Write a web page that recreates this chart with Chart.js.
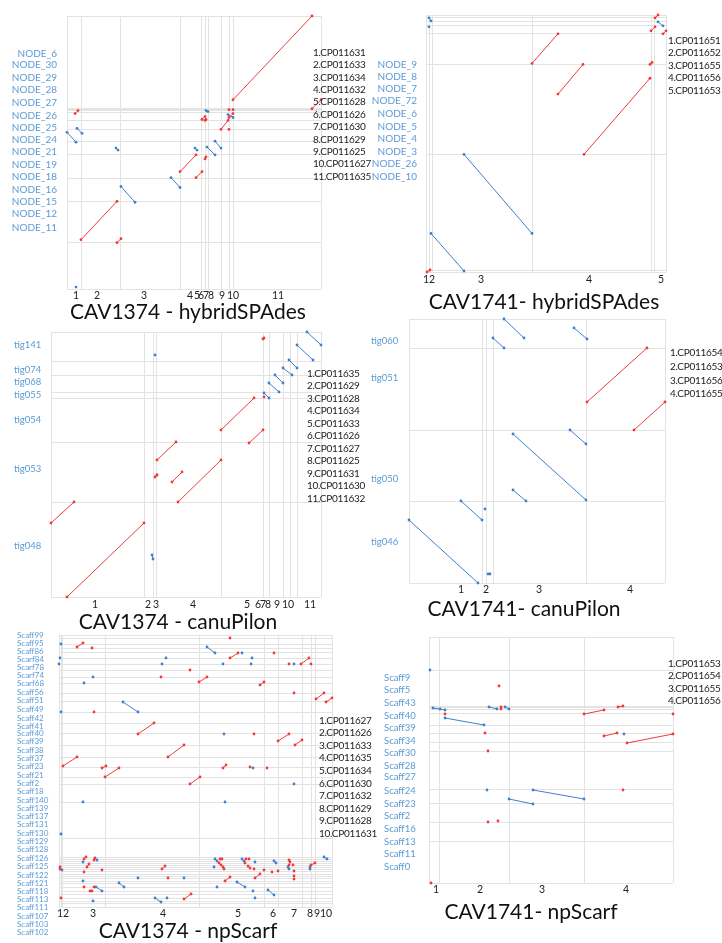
<!DOCTYPE html>
<html>
<head>
<meta charset="utf-8">
<script src="https://cdn.jsdelivr.net/npm/chart.js@4.4.1/dist/chart.umd.min.js"></script>
<style>
  html, body { margin:0; padding:0; background:#fff; }
  #page { position:relative; width:722px; height:943px; overflow:hidden; font-family:Lato, "Open Sans", sans-serif; }
  #page canvas { position:absolute; left:0; top:0; }
  .ttl { position:absolute; font-size:21px; color:#111; white-space:nowrap; transform:translate(-50%,-50%); }
  .lst { position:absolute; font-size:10px; letter-spacing:-0.3px; color:#222; white-space:pre; }
</style>
</head>
<body>
<div id="page"></div>
<script>
// positions are in plot units: x along the reference chromosomes, y along the assembly contigs
// segments are [x1, y1, x2, y2]; single hits are [x, y]

// ---- CAV1374 - hybridSPAdes
const p1Title = 'CAV1374 - hybridSPAdes';
const p1Range = [254, 277];
const p1RefNames = ['1','2','3','4','5','6','7','8','9','10','11'];
const p1RefPos = [9,30,77,123,130,134,139,144,155,166,211];
const p1RefBounds = [0,14,53,113,134,138,141,154,162,166,254];
const p1Contigs = ['NODE_6','NODE_30','NODE_29','NODE_28','NODE_27','NODE_26','NODE_25','NODE_24','NODE_21','NODE_19','NODE_18','NODE_16','NODE_15','NODE_12','NODE_11'];
const p1ContigPos = [239,227,214,202,189,176,164,151,139,126,114,101,88,76,62];
const p1ContigBounds = [0,47,89,112,136,150,162,171,179,181,182,183,277];
const p1Fwd = [[166,192,245,277],[245,183,254,192],[8,178,11,181],[14,50,50,89],[50,47,54,51],[113,119,129,136],[129,113,135,119],[138,132,139,134],[154,162,161,171],[162,162],[135,172,138,175],[138,171,139,172],[162,182],[166,182],[162,174,166,178]];
const p1Rev = [[0,159,9,149],[10,163,15,158],[49,143,51,141],[54,104,68,88],[104,113,113,103],[128,143,130,141],[140,144,148,136],[148,150,154,143],[139,181,141,180],[161,177,166,174],[9,2]];
const p1Legend = ['1.CP011631','2.CP011633','3.CP011634','4.CP011632','5.CP011628','6.CP011626','7.CP011630','8.CP011629','9.CP011625','10.CP011627','11.CP011635'];

// ---- CAV1741 - hybridSPAdes
const p2Title = 'CAV1741- hybridSPAdes';
const p2Range = [240, 260];
const p2RefNames = ['12','3','4','5'];
const p2RefPos = [3,55,163,235];
const p2RefBounds = [0,3,6,106,225,228,240];
const p2Contigs = ['NODE_9','NODE_8','NODE_7','NODE_72','NODE_6','NODE_5','NODE_4','NODE_3','NODE_26','NODE_10'];
const p2ContigPos = [210,198,185,173,160,147,135,122,109,96];
const p2ContigBounds = [0,2,119,210,241,249,253,257,260];
const p2Fwd = [[106,211,132,241],[132,180,157,210],[158,119,224,196],[224,210,226,212],[1,0,4,2],[229,257,232,260],[225,244,229,248],[237,241,240,244]];
const p2Rev = [[38,119,106,39],[5,39,38,1],[232,253,237,249],[3,257,5,254],[3,248]];
const p2Legend = ['1.CP011651','2.CP011652','3.CP011655','4.CP011656','5.CP011653'];

// ---- CAV1374 - canuPilon
const p3Title = 'CAV1374 - canuPilon';
const p3Range = [270, 265];
const p3RefNames = ['1','2','3','4','5','6','7','8','9','10','11'];
const p3RefPos = [44,97,105,142,196,207,212,217,226,237,259];
const p3RefBounds = [0,93,102,105,170,212,218,232,239,246,270];
const p3Contigs = ['tig141','tig074','tig068','tig055','tig054','tig053','tig048'];
const p3ContigPos = [252,227,215,202,177,128,51];
const p3ContigBounds = [0,95,155,199,205,222,236,265];
const p3Fwd = [[0,74,23,95],[16,0,93,74],[104,120,106,122],[106,137,125,155],[121,115,131,125],[127,95,170,137],[170,167,203,199],[198,154,212,167],[212,258,213,259],[213,200]];
const p3Rev = [[101,42,102,38],[106,122],[104,242],[256,265,270,252],[246,252,262,237],[238,237,246,229],[232,229,241,222],[224,222,232,214],[218,214,228,205],[213,204,218,199]];
const p3Legend = ['1.CP011635','2.CP011629','3.CP011628','4.CP011634','5.CP011633','6.CP011626','7.CP011627','8.CP011625','9.CP011631','10.CP011630','11.CP011632'];

// ---- CAV1741 - canuPilon
const p4Title = 'CAV1741- canuPilon';
const p4Range = [256, 264];
const p4RefNames = ['1','2','3','4'];
const p4RefPos = [52,77,130,221];
const p4RefBounds = [0,73,77,84,177,256];
const p4Contigs = ['tig060','tig051','tig050','tig046'];
const p4ContigPos = [242,205,104,41];
const p4ContigBounds = [0,82,153,235,264];
const p4Fwd = [[178,181,238,235],[225,153,256,181]];
const p4Rev = [[95,264,115,245],[84,245,95,235],[165,255,178,244],[104,149,177,83],[161,153,177,139],[104,93,117,82],[52,82,73,63],[76,74],[0,63,69,0],[79,9],[81,9]];
const p4Legend = ['1.CP011654','2.CP011653','3.CP011656','4.CP011655'];

// ---- CAV1374 - npScarf
const p5Title = 'CAV1374 - npScarf';
const p5Range = [273, 272];
const p5RefNames = ['12','3','4','5','6','7','8','9','10'];
const p5RefPos = [4,34,104,179,214,235,251,258,267];
const p5RefBounds = [0,2,3,46,140,205,219,243,252,256,273];
const p5Contigs = ['Scaff99','Scaff95','Scaff86','Scarf84','Scarf78','Scarf74','Scarf68','Scaff56','Scaff51','Scaff49','Scaff42','Scaff41','Scaff40','Scaff39','Scaff38','Scaff37','Scaff23','Scaff21','Scaff2','Scaff18','Scaff140','Scaff139','Scaff137','Scaff131','Scaff130','Scaff129','Scaff128','Scaff126','Scaff125','Scaff122','Scaff121','Scaff118','Scaff113','Scaff111','Scaff107','Scaff103','Scaff102'];
const p5ContigPos = [272,264,256,248,240,232,224,215,207,198,189,181,174,166,157,149,141,132,124,116,107,99,91,83,74,66,58,49,41,32,24,16,8,0,-9,-17,-25];
const p5ContigBounds = [0,4,6,9,13,16,20,24,26,29,31,33,36,38,40,42,44,46,48,50,69,105,123,130,140,150,162,174,184,195,206,214,224,230,237,243,249,255,259,263,269,272];
const p5Fwd = [[18,260,24,264],[33,259],[131,237],[102,230],[35,195],[79,173,95,184],[109,150,125,162],[4,141,18,150],[43,139,47,141],[46,130,60,139],[131,123,141,130],[171,269],[171,249,179,254],[215,254],[230,243],[242,243,250,249],[252,243],[140,225,148,230],[201,222,205,225],[235,214],[257,208,265,214],[267,205,273,209],[195,173],[219,166,230,173],[236,162,243,167],[164,139,167,142],[191,140],[208,139],
  [25,48,27,50],[35,47,36,49],[28,40,30,43],[1,40],[1,38],[25,35],[43,37],[103,38,106,41],[109,29],[25,20],[35,20],[31,16,33,16],[2,9],[125,8,132,13],[161,48],[163,48],[160,44],[162,42],[164,40],[165,38],[187,48],[190,48],[186,44],[189,41],[191,39],[195,38],[230,47],[231,45],[230,42],[234,42],[235,36],[235,31],[235,28],[252,42,256,44],[196,29,201,33],[166,26,171,30],[213,35],[219,36],[205,37]];
const p5Rev = [[2,263],[1,249],[0,243],[107,249],[103,243],[34,230],[25,224],[64,205,79,195],[2,195],[148,260,156,254],[183,254],[193,249],[164,243],[192,243],[235,243],[165,173],[194,139],[24,105],[2,73],[235,123],[166,105],
  [24,45],[38,47],[3,37],[79,29],[125,29],[24,26],[37,20,43,16],[60,24,65,20],[34,6],[96,9,102,5],[108,9],[156,48],[158,46],[155,40],[183,48],[185,46],[196,45],[215,46,217,44],[229,40],[230,38],[251,40],[251,38],[265,50,268,48],[178,25,186,20],[158,20],[194,16],[209,17,215,12],[196,9]];
const p5Legend = ['1.CP011627','2.CP011626','3.CP011633','4.CP011635','5.CP011634','6.CP011630','7.CP011632','8.CP011629','9.CP011628','10.CP011631'];

// ---- CAV1741 - npScarf
const p6Title = 'CAV1741- npScarf';
const p6Range = [244, 246];
const p6RefNames = ['1','2','3','4'];
const p6RefPos = [7,51,113,197];
const p6RefBounds = [0,10,80,155,244];
const p6Contigs = ['Scaff9','Scaff5','Scaff43','Scaff40','Scaff39','Scaff34','Scaff30','Scaff28','Scaff27','Scaff24','Scaff23','Scaff2','Scaff16','Scaff13','Scaff11','Scaff0'];
const p6ContigPos = [205,193,180,167,155,142,130,117,106,92,79,67,54,41,29,16];
const p6ContigBounds = [0,42,61,80,94,132,141,150,158,170,174,176,177,213,246];
const p6Fwd = [[70,197],[16,169],[72,174,72,176],[155,169,175,173],[189,176,194,177],[244,169],[56,150],[175,147,188,150],[198,140,244,149],[59,132],[194,93],[59,61],[69,62],[2,0]];
const p6Rev = [[1,213],[4,175,16,173],[11,174],[16,165,55,158],[60,176,68,174],[76,176,80,174],[195,149],[58,93],[104,93,155,84],[80,84,104,79]];
const p6Legend = ['1.CP011653','2.CP011654','3.CP011655','4.CP011656'];

const FWD = '#f03a3a';
const REV = '#3f7fcc';
const GRID = '#e3e3e3';
const CONTIG_COLOR = '#5b9bd5';
const W = 722, H = 943;
const FONT = 'Lato';
const XLAB_H = 16;   // band under each plot that holds the chromosome numbers

function segDataset(s, color) {
  const pts = s.length === 2 ? [{x:s[0], y:s[1]}] : [{x:s[0], y:s[1]}, {x:s[2], y:s[3]}];
  return {
    data: pts, borderColor: color, backgroundColor: color, borderWidth: 1,
    pointRadius: 1.4, pointBorderWidth: 0, pointBackgroundColor: color, clip: false
  };
}

function fixedTicks(values) {
  return s => { s.ticks = values.map(v => ({ value: v })); };
}

function dotPlot(d, box) {
  const page = document.getElementById('page');
  const cv = document.createElement('canvas');
  cv.width = W; cv.height = H;
  page.appendChild(cv);

  // left-aligned contig names sit in a band of exactly this width, right-aligned ones get room to spare
  const far = box.align === 'far';
  const gap = box.left - box.labelX;
  const labelW = far ? gap : gap + 50;

  const datasets = d.fwd.map(s => segDataset(s, FWD)).concat(d.rev.map(s => segDataset(s, REV)));

  new Chart(cv, {
    type: 'line',
    data: { datasets },
    options: {
      responsive: false, animation: false, events: [], devicePixelRatio: 1,
      layout: { padding: { left: box.left - labelW, top: box.top, right: W - box.right, bottom: H - box.bottom - XLAB_H } },
      plugins: { legend: { display: false }, tooltip: { enabled: false }, title: { display: false } },
      scales: {
        x: {
          type: 'linear', position: 'bottom', min: 0, max: d.range[0],
          afterBuildTicks: fixedTicks(d.refBounds), afterFit: s => { s.height = 0; },
          grid: { color: GRID, lineWidth: 1, drawTicks: false }, border: { display: false },
          ticks: { display: false, autoSkip: false }
        },
        xl: {
          type: 'linear', position: 'bottom', min: 0, max: d.range[0],
          afterBuildTicks: fixedTicks(d.refPos), afterFit: s => { s.height = XLAB_H; },
          grid: { display: false, drawTicks: false }, border: { display: false },
          ticks: { autoSkip: false, maxRotation: 0, padding: box.xPad, color: '#222',
                   font: { family: FONT, size: 10.5 }, callback: (v, i) => d.refNames[i] }
        },
        y: {
          type: 'linear', position: 'left', min: 0, max: d.range[1],
          afterBuildTicks: fixedTicks(d.contigBounds), afterFit: s => { s.width = 0; },
          grid: { color: GRID, lineWidth: 1, drawTicks: false }, border: { display: false },
          ticks: { display: false, autoSkip: false }
        },
        yl: {
          type: 'linear', position: 'left', min: 0, max: d.range[1],
          afterBuildTicks: fixedTicks(d.contigPos), afterFit: s => { s.width = labelW; },
          grid: { display: false, drawTicks: false }, border: { display: false },
          ticks: { autoSkip: false, crossAlign: far ? 'far' : 'near', padding: far ? 0 : gap,
                   color: CONTIG_COLOR, font: { family: FONT, size: box.contigSize },
                   callback: (v, i) => d.contigs[i] }
        }
      }
    }
  });

  const t = document.createElement('div');
  t.className = 'ttl';
  t.style.left = box.titleX + 'px';
  t.style.top = box.titleY + 'px';
  t.textContent = d.title;
  page.appendChild(t);

  const l = document.createElement('div');
  l.className = 'lst';
  l.style.left = box.legendX + 'px';
  l.style.top = (box.legendY - box.legendStep / 2) + 'px';
  l.style.lineHeight = box.legendStep + 'px';
  l.textContent = d.legend.join('\n');
  page.appendChild(l);
}

dotPlot({ title: p1Title, range: p1Range, refNames: p1RefNames, refPos: p1RefPos, refBounds: p1RefBounds,
          contigs: p1Contigs, contigPos: p1ContigPos, contigBounds: p1ContigBounds, fwd: p1Fwd, rev: p1Rev, legend: p1Legend },
        { left: 67, top: 12, right: 321, bottom: 289, labelX: 57, align: 'near', contigSize: 10, xPad: 0,
          titleX: 188, titleY: 310, legendX: 313, legendY: 52, legendStep: 12.4 });

dotPlot({ title: p2Title, range: p2Range, refNames: p2RefNames, refPos: p2RefPos, refBounds: p2RefBounds,
          contigs: p2Contigs, contigPos: p2ContigPos, contigBounds: p2ContigBounds, fwd: p2Fwd, rev: p2Rev, legend: p2Legend },
        { left: 426, top: 12, right: 666, bottom: 272, labelX: 417, align: 'near', contigSize: 10, xPad: 1,
          titleX: 544, titleY: 300, legendX: 668, legendY: 40, legendStep: 12.5 });

dotPlot({ title: p3Title, range: p3Range, refNames: p3RefNames, refPos: p3RefPos, refBounds: p3RefBounds,
          contigs: p3Contigs, contigPos: p3ContigPos, contigBounds: p3ContigBounds, fwd: p3Fwd, rev: p3Rev, legend: p3Legend },
        { left: 51, top: 332, right: 321, bottom: 597, labelX: 14, align: 'far', contigSize: 9.5, xPad: 1,
          titleX: 178, titleY: 620, legendX: 307, legendY: 373, legendStep: 12.5 });

dotPlot({ title: p4Title, range: p4Range, refNames: p4RefNames, refPos: p4RefPos, refBounds: p4RefBounds,
          contigs: p4Contigs, contigPos: p4ContigPos, contigBounds: p4ContigBounds, fwd: p4Fwd, rev: p4Rev, legend: p4Legend },
        { left: 409, top: 319, right: 665, bottom: 583, labelX: 371, align: 'far', contigSize: 9.5, xPad: 0,
          titleX: 524, titleY: 607, legendX: 670, legendY: 353, legendStep: 13.7 });

dotPlot({ title: p5Title, range: p5Range, refNames: p5RefNames, refPos: p5RefPos, refBounds: p5RefBounds,
          contigs: p5Contigs, contigPos: p5ContigPos, contigBounds: p5ContigBounds, fwd: p5Fwd, rev: p5Rev, legend: p5Legend },
        { left: 59, top: 635, right: 332, bottom: 907, labelX: 17, align: 'far', contigSize: 8, xPad: 0,
          titleX: 188, titleY: 929, legendX: 319, legendY: 720, legendStep: 12.6 });

dotPlot({ title: p6Title, range: p6Range, refNames: p6RefNames, refPos: p6RefPos, refBounds: p6RefBounds,
          contigs: p6Contigs, contigPos: p6ContigPos, contigBounds: p6ContigBounds, fwd: p6Fwd, rev: p6Rev, legend: p6Legend },
        { left: 429, top: 637, right: 673, bottom: 883, labelX: 384, align: 'far', contigSize: 9.5, xPad: 0,
          titleX: 531, titleY: 910, legendX: 668, legendY: 663, legendStep: 12.4 });
</script>
</body>
</html>
